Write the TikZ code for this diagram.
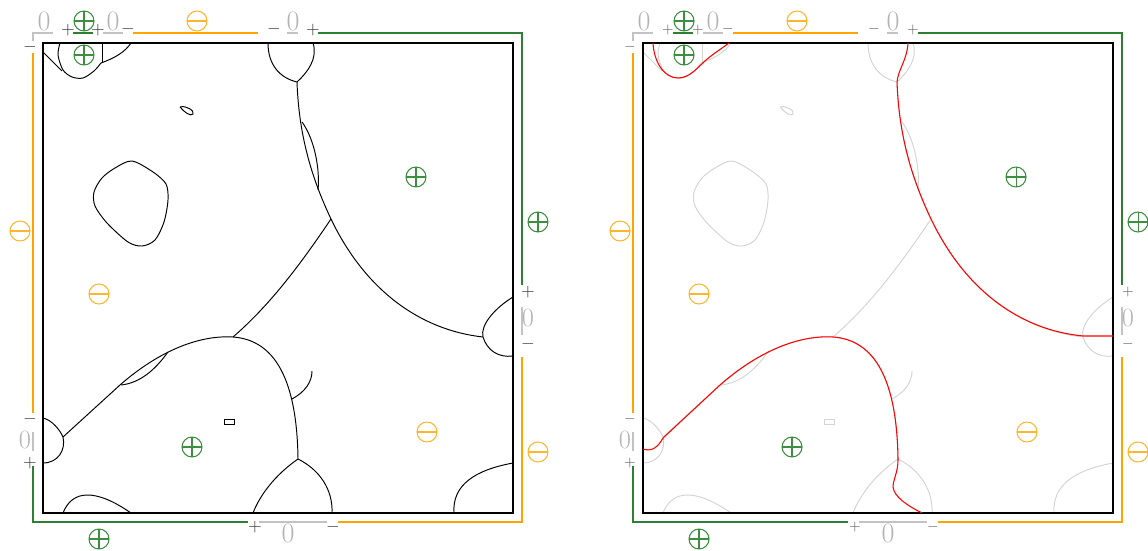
\documentclass[tikz,border=0pt]{standalone}
\definecolor{Ink}{HTML}{000000}
\definecolor{SignInk}{HTML}{3A3A3A}
\definecolor{ZeroGray}{HTML}{B4B4B4}
\definecolor{PosGreen}{HTML}{2F7F33}
\definecolor{MarkGreen}{HTML}{3D8F40}
\definecolor{NegOrange}{HTML}{FFA300}
\definecolor{MarkOrange}{HTML}{FFB530}
\definecolor{FadedCurve}{HTML}{D4D4D4}
\definecolor{PathRed}{HTML}{FF0000}
\tikzset{
  domain frame/.style={draw=Ink, line width=0.75pt},
  pos side/.style={draw=PosGreen, line width=0.7pt},
  neg side/.style={draw=NegOrange, line width=0.7pt},
  zero side/.style={draw=ZeroGray!80, line width=0.7pt},
  level curve/.style={draw=Ink, line width=0.55pt},
  faded curve/.style={draw=FadedCurve, line width=0.55pt},
  red path/.style={draw=PathRed, line width=0.6pt},
  isoline/.style={level curve},
  zero label/.style={text=ZeroGray, inner sep=0pt, font=\fontsize{16}{18}\selectfont},
  side zero/.style={zero label, font=\fontsize{15}{17}\selectfont},
  sign label/.style={text=SignInk, inner sep=0pt, text height=5pt, text depth=0pt,
    font=\fontsize{10}{12}\selectfont},
  pos mark/.style={circle, draw=MarkGreen, line width=0.6pt, minimum size=4mm, inner sep=0pt,
    path picture={\draw[MarkGreen, line width=0.6pt]
      (path picture bounding box.north) -- (path picture bounding box.south)
      (path picture bounding box.west) -- (path picture bounding box.east);}},
  neg mark/.style={circle, draw=MarkOrange, line width=0.6pt, minimum size=4mm, inner sep=0pt,
    path picture={\draw[MarkOrange, line width=0.6pt]
      (path picture bounding box.west) -- (path picture bounding box.east);}},
}

% boundary ring with its sign labels, prefix #1 keeps node names apart
\newcommand{\boundaryring}[1]{%
  \draw[domain frame] (43,43) rectangle (513,513);
  % left side, top to bottom
  \draw[zero side] (33,41) -- (33,33) -- (53,33);
  \node[zero label] (#1zeroCorner) at (44,21) {0};
  \node[sign label] (#1signA) at (30,47) {$-$};
  \draw[neg side] (33,53) -- (33,413);
  \node[neg mark] (#1negLeft) at (20,231) {};
  \node[sign label] (#1signB) at (30,419) {$-$};
  \draw[zero side] (33,432) -- (33,451);
  \node[side zero] (#1zeroLeft) at (25,440) {0};
  \node[sign label] (#1signC) at (30,463) {$+$};
  % bottom side
  \draw[pos side] (33,466) -- (33,522) -- (248,522);
  \node[pos mark] (#1posBottom) at (99,539) {};
  \node[sign label] (#1signD) at (255,527) {$+$};
  \draw[zero side] (259,522) -- (327,522);
  \node[zero label] (#1zeroBottom) at (288,533) {0};
  \node[sign label] (#1signE) at (333,527) {$-$};
  % right side
  \draw[neg side] (338,522) -- (522,522) -- (522,357);
  \node[neg mark] (#1negRight) at (538,452) {};
  \node[sign label] (#1signF) at (528,344) {$-$};
  \draw[zero side] (522,307) -- (522,335);
  \node[side zero] (#1zeroRight) at (528,318) {0};
  \node[sign label] (#1signG) at (528,292) {$+$};
  \draw[pos side] (522,285) -- (522,33) -- (318,33);
  \node[pos mark] (#1posRight) at (538,222) {};
  % top side, right to left
  \node[sign label] (#1signH) at (313,30) {$+$};
  \draw[zero side] (287,33) -- (298,33);
  \node[zero label] (#1zeroTop) at (293,21) {0};
  \node[sign label] (#1signI) at (274,29) {$-$};
  \draw[neg side] (133,33) -- (258,33);
  \node[neg mark] (#1negTop) at (197,21) {};
  \node[sign label] (#1signJ) at (128,29) {$-$};
  \draw[zero side] (103,33) -- (123,33);
  \node[zero label] (#1zeroTopB) at (113,21) {0};
  \node[sign label] (#1signK) at (98,30) {$+$};
  \draw[pos side] (73,33) -- (93,33);
  \node[pos mark] (#1posTop) at (84,21) {};
  \node[sign label] (#1signL) at (68,30) {$+$};
  % region signs inside the square
  \node[pos mark] (#1posCorner) at (84,55) {};
  \node[pos mark] (#1posUpper) at (416,177) {};
  \node[neg mark] (#1negMid) at (99,294) {};
  \node[pos mark] (#1posLower) at (192,447) {};
  \node[neg mark] (#1negLower) at (427,432) {};
}

% zero level set inside the square
\newcommand{\levelcurves}{%
  \draw[isoline] plot[smooth] coordinates {(60,43) (58,55) (63,70) (72,77) (83,78) (94,71) (101,63)};
  \draw[isoline] (43,52) -- (62,71);
  \draw[isoline] (102,43) -- (102,62);
  \draw[isoline] (101,63) .. controls (115,58) and (125,52) .. (131,43);
  \draw[isoline] (268,43) .. controls (268,65) and (280,78) .. (297,82);
  \draw[isoline] (313,43) .. controls (318,58) and (308,72) .. (297,82);
  \draw[isoline] (297,82) .. controls (299,140) and (314,183) .. (331,219)
    .. controls (365,290) and (420,330) .. (483,337);
  \draw[isoline] (302,122) .. controls (315,140) and (320,170) .. (318,190);
  \draw[isoline] (331,219) .. controls (300,265) and (270,305) .. (233,337);
  \draw[isoline] (63,437) -- (120,385) .. controls (160,350) and (200,335) .. (233,337)
    .. controls (275,340) and (297,380) .. (298,459);
  \draw[isoline] (121,385) .. controls (140,383) and (155,370) .. (168,352);
  \draw[isoline] (292,399) .. controls (305,392) and (312,382) .. (312,371);
  \draw[isoline] (298,459) .. controls (275,475) and (260,495) .. (253,513);
  \draw[isoline] (298,459) .. controls (320,470) and (333,490) .. (332,513);
  \draw[isoline] (513,297) .. controls (495,308) and (480,325) .. (483,337)
    .. controls (487,350) and (498,358) .. (513,356);
  \draw[isoline] (43,418) .. controls (52,420) and (60,430) .. (63,437)
    .. controls (66,450) and (58,463) .. (43,463);
  \draw[isoline] (63,513) .. controls (72,490) and (95,488) .. (131,513);
  \draw[isoline] (454,513) .. controls (452,485) and (475,470) .. (513,463);
  \draw[isoline] plot[smooth cycle] coordinates {(132,161) (153,172) (166,184) (168,200)
    (164,222) (155,240) (142,246) (128,242) (107,223) (95,206) (94,192) (102,178) (115,168)};
  \draw[isoline] (180,107) .. controls (186,105) and (195,111) .. (193,114)
    .. controls (191,117) and (184,112) .. (180,107);
  \draw[isoline] (224,419) rectangle (234,424);
}

\begin{document}
\begin{tikzpicture}[x=0.2mm, y=-0.2mm]
  \useasboundingbox (0,0) rectangle (1148,551);

  % left panel: the full level set
  \begin{scope}
    \levelcurves
    \boundaryring{L}
  \end{scope}

  % right panel: level set faded, selected path on top
  \begin{scope}[xshift=120mm, isoline/.style={faded curve},
      sign label/.style={text=SignInk!75, inner sep=0pt, text height=4.2pt, text depth=0pt,
        font=\fontsize{8.5}{10}\selectfont}]
    \levelcurves
    \boundaryring{R}
    \draw[red path] (53,43) .. controls (54,62) and (64,78) .. (78,78)
      .. controls (90,78) and (98,67) .. (106,60)
      .. controls (113,54) and (121,49) .. (129,43);
    \draw[red path] (308,43) .. controls (307,60) and (298,70) .. (297,82)
      .. controls (299,140) and (314,183) .. (331,219)
      .. controls (365,290) and (420,330) .. (483,336) -- (513,336);
    \draw[red path] (43,449) .. controls (52,452) and (58,447) .. (63,438)
      -- (120,385) .. controls (160,350) and (200,335) .. (233,337)
      .. controls (275,340) and (297,380) .. (298,460)
      .. controls (298,472) and (293,480) .. (293,487)
      .. controls (294,497) and (308,506) .. (322,513);
  \end{scope}
\end{tikzpicture}
\end{document}
